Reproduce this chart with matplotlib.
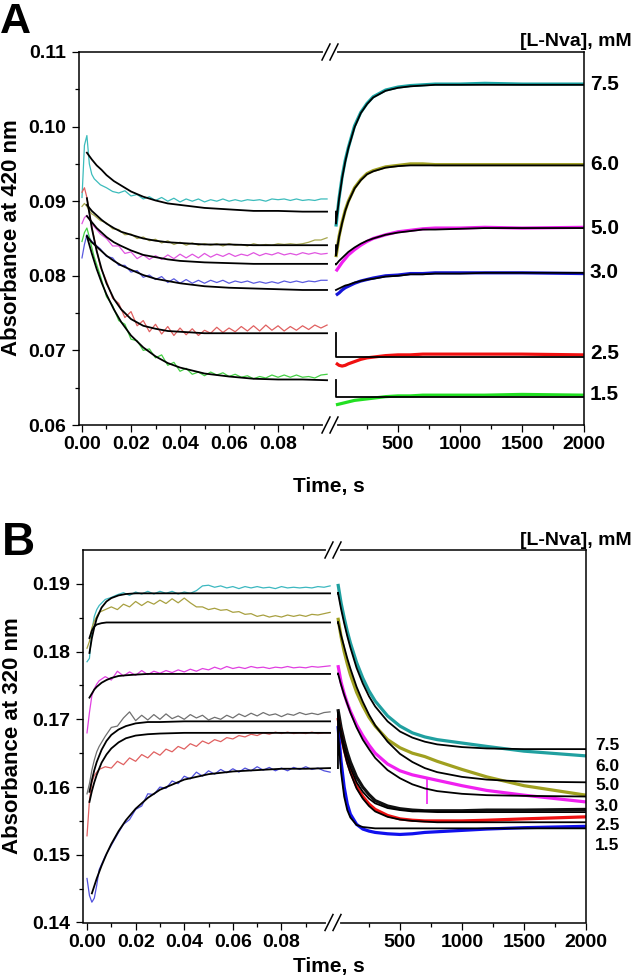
import matplotlib
matplotlib.use("Agg")
import matplotlib.pyplot as plt
import numpy as np
from matplotlib.ticker import FixedLocator, FormatStrFormatter

plt.rcParams['font.family'] = ['Liberation Sans', 'DejaVu Sans']
plt.rcParams['font.weight'] = 'bold'

# ---------------- data ----------------
conc_labels = ['7.5', '6.0', '5.0', '3.0', '2.5', '1.5']

# fast phase sampling (s)
t_raw = [0.000, 0.001, 0.002, 0.003, 0.004,
         0.005, 0.0075, 0.010, 0.0125, 0.015, 0.0175, 0.020, 0.0225, 0.025, 0.0275,
         0.030, 0.0325, 0.035, 0.0375, 0.040, 0.0425, 0.045, 0.0475, 0.050, 0.0525,
         0.055, 0.0575, 0.060, 0.0625, 0.065, 0.0675, 0.070, 0.0725, 0.075, 0.0775,
         0.080, 0.0825, 0.085, 0.0875, 0.090, 0.0925, 0.095, 0.0975, 0.100]
t_fit_a = [0.002, 0.004, 0.006, 0.008, 0.010, 0.013, 0.016, 0.020, 0.025,
           0.030, 0.035, 0.040, 0.050, 0.060, 0.070, 0.080, 0.090, 0.100]
t_fit_b = [0.001, 0.002, 0.003, 0.004, 0.006, 0.008, 0.010, 0.013, 0.016, 0.020,
           0.025, 0.030, 0.040, 0.050, 0.060, 0.070, 0.080, 0.090, 0.100]
# slow phase sampling (s)
t_slow = [0, 25, 50, 75, 100, 150, 200, 250, 300, 400, 500, 600, 700, 800,
          1000, 1200, 1500, 2000]

# ---- panel A, 420 nm ----
a_raw = [
    [0.0905, 0.0975, 0.0988, 0.0950, 0.0936,
     0.0930, 0.0922, 0.0918, 0.0913, 0.0911, 0.0914, 0.0907, 0.0909, 0.0903, 0.0906,
     0.0901, 0.0905, 0.0900, 0.0904, 0.0899, 0.0903, 0.0900, 0.0903, 0.0899, 0.0902,
     0.0900, 0.0903, 0.0900, 0.0902, 0.0900, 0.0902, 0.0901, 0.0902, 0.0900, 0.0903,
     0.0902, 0.0903, 0.0901, 0.0903, 0.0901, 0.0902, 0.0901, 0.0903, 0.0903],
    [0.0893, 0.0897, 0.0893, 0.0887, 0.0883,
     0.0881, 0.0874, 0.0871, 0.0863, 0.0862, 0.0855, 0.0856, 0.0850, 0.0852, 0.0847,
     0.0849, 0.0844, 0.0847, 0.0842, 0.0845, 0.0841, 0.0844, 0.0841, 0.0843, 0.0841,
     0.0843, 0.0840, 0.0843, 0.0841, 0.0842, 0.0840, 0.0843, 0.0841, 0.0842, 0.0841,
     0.0843, 0.0842, 0.0843, 0.0842, 0.0843, 0.0845, 0.0848, 0.0848, 0.0851],
    [0.0870, 0.0878, 0.0881, 0.0876, 0.0870,
     0.0866, 0.0856, 0.0850, 0.0840, 0.0840, 0.0830, 0.0832, 0.0823, 0.0828, 0.0822,
     0.0827, 0.0822, 0.0828, 0.0823, 0.0829, 0.0824, 0.0829, 0.0824, 0.0830, 0.0825,
     0.0829, 0.0826, 0.0830, 0.0826, 0.0829, 0.0827, 0.0831, 0.0827, 0.0830, 0.0828,
     0.0831, 0.0828, 0.0830, 0.0828, 0.0831, 0.0829, 0.0831, 0.0829, 0.0830],
    [0.0824, 0.0842, 0.0855, 0.0851, 0.0846,
     0.0843, 0.0836, 0.0826, 0.0824, 0.0814, 0.0814, 0.0805, 0.0807, 0.0798, 0.0801,
     0.0795, 0.0799, 0.0791, 0.0796, 0.0790, 0.0795, 0.0790, 0.0794, 0.0790, 0.0794,
     0.0791, 0.0794, 0.0790, 0.0793, 0.0791, 0.0793, 0.0790, 0.0792, 0.0790, 0.0792,
     0.0790, 0.0793, 0.0791, 0.0793, 0.0791, 0.0793, 0.0792, 0.0794, 0.0794],
    [0.0912, 0.0918, 0.0905, 0.0885, 0.0866,
     0.0850, 0.0812, 0.0793, 0.0770, 0.0763, 0.0744, 0.0752, 0.0733, 0.0740, 0.0725,
     0.0735, 0.0722, 0.0732, 0.0720, 0.0730, 0.0721, 0.0729, 0.0720, 0.0727, 0.0723,
     0.0731, 0.0724, 0.0730, 0.0725, 0.0732, 0.0726, 0.0733, 0.0726, 0.0734, 0.0727,
     0.0733, 0.0726, 0.0732, 0.0727, 0.0733, 0.0728, 0.0734, 0.0730, 0.0734],
    [0.0846, 0.0858, 0.0864, 0.0852, 0.0838,
     0.0825, 0.0800, 0.0772, 0.0760, 0.0740, 0.0735, 0.0715, 0.0713, 0.0700, 0.0702,
     0.0690, 0.0694, 0.0680, 0.0684, 0.0672, 0.0676, 0.0668, 0.0671, 0.0666, 0.0671,
     0.0667, 0.0670, 0.0665, 0.0668, 0.0664, 0.0666, 0.0662, 0.0665, 0.0663, 0.0667,
     0.0664, 0.0667, 0.0664, 0.0667, 0.0664, 0.0665, 0.0663, 0.0667, 0.0668],
]
a_fit_fast = [
    [0.0965, 0.0956, 0.0948, 0.0942, 0.0935, 0.0927, 0.0921, 0.0913, 0.0906,
     0.0901, 0.0897, 0.0895, 0.0891, 0.0889, 0.0887, 0.0887, 0.0886, 0.0886],
    [0.0895, 0.0887, 0.0881, 0.0875, 0.0870, 0.0864, 0.0859, 0.0855, 0.0850,
     0.0847, 0.0845, 0.0844, 0.0842, 0.0842, 0.0841, 0.0841, 0.0841, 0.0841],
    [0.0880, 0.0872, 0.0864, 0.0858, 0.0852, 0.0845, 0.0840, 0.0834, 0.0828,
     0.0825, 0.0822, 0.0820, 0.0818, 0.0817, 0.0816, 0.0816, 0.0816, 0.0816],
    [0.0853, 0.0845, 0.0839, 0.0833, 0.0827, 0.0820, 0.0814, 0.0808, 0.0801,
     0.0796, 0.0793, 0.0790, 0.0786, 0.0784, 0.0783, 0.0782, 0.0781, 0.0781],
    [0.0904, 0.0864, 0.0833, 0.0809, 0.0790, 0.0769, 0.0755, 0.0742, 0.0733,
     0.0729, 0.0726, 0.0725, 0.0723, 0.0723, 0.0723, 0.0723, 0.0723, 0.0723],
    [0.0853, 0.0830, 0.0809, 0.0791, 0.0775, 0.0755, 0.0738, 0.0720, 0.0704,
     0.0692, 0.0683, 0.0677, 0.0669, 0.0665, 0.0662, 0.0661, 0.0661, 0.0660],
]
a_slow = [
    [0.0866, 0.0904, 0.0933, 0.0955, 0.0972, 0.1001, 0.1019, 0.1031, 0.1040,
     0.1049, 0.1053, 0.1055, 0.1056, 0.1057, 0.1057, 0.1058, 0.1057, 0.1057],
    [0.0825, 0.0853, 0.0872, 0.0888, 0.0900, 0.0918, 0.0929, 0.0937, 0.0941,
     0.0946, 0.0948, 0.0950, 0.0950, 0.0949, 0.0949, 0.0949, 0.0949, 0.0949],
    [0.0806, 0.0812, 0.0818, 0.0823, 0.0828, 0.0835, 0.0841, 0.0846, 0.0850,
     0.0855, 0.0859, 0.0861, 0.0863, 0.0864, 0.0864, 0.0865, 0.0864, 0.0865],
    [0.0774, 0.0777, 0.0781, 0.0784, 0.0786, 0.0790, 0.0793, 0.0795, 0.0797,
     0.0800, 0.0801, 0.0803, 0.0803, 0.0804, 0.0804, 0.0804, 0.0804, 0.0803],
    [0.0683, 0.0680, 0.0679, 0.0680, 0.0682, 0.0685, 0.0688, 0.0690, 0.0691,
     0.0693, 0.0694, 0.0694, 0.0695, 0.0695, 0.0695, 0.0695, 0.0695, 0.0694],
    [0.0627, 0.0628, 0.0629, 0.0630, 0.0631, 0.0633, 0.0634, 0.0635, 0.0636,
     0.0638, 0.0639, 0.0639, 0.0640, 0.0640, 0.0640, 0.0640, 0.0641, 0.0640],
]
a_fit_slow = [
    [0.0870, 0.0903, 0.0931, 0.0953, 0.0971, 0.0999, 0.1018, 0.1030, 0.1039,
     0.1048, 0.1052, 0.1054, 0.1055, 0.1056, 0.1056, 0.1056, 0.1056, 0.1056],
    [0.0827, 0.0852, 0.0871, 0.0887, 0.0899, 0.0917, 0.0928, 0.0936, 0.0940,
     0.0945, 0.0947, 0.0948, 0.0948, 0.0948, 0.0948, 0.0948, 0.0948, 0.0948],
    [0.0815, 0.0820, 0.0824, 0.0828, 0.0832, 0.0838, 0.0843, 0.0847, 0.0850,
     0.0855, 0.0858, 0.0860, 0.0862, 0.0862, 0.0863, 0.0864, 0.0864, 0.0864],
    [0.0781, 0.0783, 0.0785, 0.0787, 0.0788, 0.0791, 0.0793, 0.0795, 0.0796,
     0.0799, 0.0800, 0.0802, 0.0802, 0.0803, 0.0803, 0.0804, 0.0804, 0.0804],
    [0.0691, 0.0691, 0.0691, 0.0691, 0.0691, 0.0691, 0.0691, 0.0691, 0.0691,
     0.0691, 0.0691, 0.0691, 0.0691, 0.0691, 0.0691, 0.0691, 0.0691, 0.0691],
    [0.0637, 0.0637, 0.0637, 0.0637, 0.0637, 0.0637, 0.0637, 0.0637, 0.0637,
     0.0637, 0.0637, 0.0637, 0.0637, 0.0637, 0.0637, 0.0637, 0.0637, 0.0637],
]
a_label_y = [0.1057, 0.0949, 0.0864, 0.0804, 0.0696, 0.0641]

# ---- panel B, 320 nm ----
b_raw = [
    [0.1785, 0.1790, 0.1830, 0.1852, 0.1862,
     0.1868, 0.1877, 0.1880, 0.1884, 0.1887, 0.1883, 0.1888, 0.1885, 0.1889, 0.1885,
     0.1889, 0.1886, 0.1889, 0.1885, 0.1888, 0.1886, 0.1890, 0.1897, 0.1898, 0.1895,
     0.1897, 0.1894, 0.1896, 0.1893, 0.1896, 0.1894, 0.1896, 0.1894, 0.1895, 0.1893,
     0.1896, 0.1894, 0.1895, 0.1894, 0.1895, 0.1894, 0.1896, 0.1895, 0.1897],
    [0.1805, 0.1815, 0.1835, 0.1845, 0.1852,
     0.1858, 0.1862, 0.1866, 0.1862, 0.1870, 0.1866, 0.1874, 0.1868, 0.1874, 0.1870,
     0.1876, 0.1871, 0.1878, 0.1872, 0.1879, 0.1872, 0.1866, 0.1866, 0.1862, 0.1864,
     0.1861, 0.1862, 0.1858, 0.1859, 0.1855, 0.1856, 0.1852, 0.1854, 0.1851, 0.1853,
     0.1851, 0.1854, 0.1852, 0.1854, 0.1852, 0.1855, 0.1854, 0.1856, 0.1858],
    [0.1680, 0.1710, 0.1735, 0.1745, 0.1752,
     0.1757, 0.1763, 0.1758, 0.1771, 0.1764, 0.1770, 0.1765, 0.1772, 0.1766, 0.1771,
     0.1768, 0.1772, 0.1769, 0.1773, 0.1770, 0.1774, 0.1771, 0.1775, 0.1773, 0.1777,
     0.1774, 0.1778, 0.1775, 0.1777, 0.1775, 0.1778, 0.1776, 0.1777, 0.1775, 0.1777,
     0.1776, 0.1778, 0.1776, 0.1777, 0.1776, 0.1778, 0.1777, 0.1778, 0.1779],
    [0.1590, 0.1605, 0.1625, 0.1640, 0.1652,
     0.1660, 0.1675, 0.1688, 0.1690, 0.1702, 0.1711, 0.1698, 0.1706, 0.1699, 0.1707,
     0.1700, 0.1708, 0.1701, 0.1705, 0.1700, 0.1707, 0.1702, 0.1706, 0.1699, 0.1703,
     0.1700, 0.1706, 0.1702, 0.1708, 0.1704, 0.1709, 0.1705, 0.1710, 0.1706, 0.1708,
     0.1704, 0.1708, 0.1706, 0.1710, 0.1707, 0.1709, 0.1707, 0.1710, 0.1711],
    [0.1528, 0.1580, 0.1607, 0.1617, 0.1622,
     0.1626, 0.1630, 0.1628, 0.1638, 0.1633, 0.1643, 0.1638, 0.1648, 0.1643, 0.1652,
     0.1647, 0.1656, 0.1652, 0.1660, 0.1656, 0.1664, 0.1660, 0.1668, 0.1664, 0.1670,
     0.1667, 0.1673, 0.1671, 0.1676, 0.1674, 0.1678, 0.1676, 0.1680, 0.1678, 0.1681,
     0.1679, 0.1681, 0.1679, 0.1680, 0.1679, 0.1681, 0.1679, 0.1680, 0.1680],
    [0.1465, 0.1440, 0.1430, 0.1436, 0.1455,
     0.1478, 0.1498, 0.1514, 0.1530, 0.1545, 0.1552, 0.1567, 0.1572, 0.1590, 0.1589,
     0.1600, 0.1598, 0.1609, 0.1605, 0.1616, 0.1612, 0.1622, 0.1616, 0.1624, 0.1619,
     0.1626, 0.1621, 0.1627, 0.1622, 0.1628, 0.1624, 0.1630, 0.1625, 0.1629, 0.1624,
     0.1628, 0.1624, 0.1629, 0.1626, 0.1630, 0.1626, 0.1628, 0.1624, 0.1622],
]
b_fit_fast = [
    [0.1798, 0.1820, 0.1836, 0.1849, 0.1865, 0.1874, 0.1879, 0.1883, 0.1885, 0.1886,
     0.1886, 0.1886, 0.1886, 0.1886, 0.1886, 0.1886, 0.1886, 0.1886, 0.1886],
    [0.1820, 0.1831, 0.1837, 0.1840, 0.1842, 0.1843, 0.1843, 0.1843, 0.1843, 0.1843,
     0.1843, 0.1843, 0.1843, 0.1843, 0.1843, 0.1843, 0.1843, 0.1843, 0.1843],
    [0.1732, 0.1738, 0.1744, 0.1748, 0.1754, 0.1758, 0.1761, 0.1764, 0.1765, 0.1766,
     0.1767, 0.1767, 0.1767, 0.1767, 0.1767, 0.1767, 0.1767, 0.1767, 0.1767],
    [0.1593, 0.1610, 0.1625, 0.1637, 0.1655, 0.1668, 0.1677, 0.1685, 0.1690, 0.1694,
     0.1696, 0.1696, 0.1697, 0.1697, 0.1697, 0.1697, 0.1697, 0.1697, 0.1697],
    [0.1578, 0.1594, 0.1607, 0.1618, 0.1636, 0.1648, 0.1657, 0.1666, 0.1672, 0.1676,
     0.1678, 0.1679, 0.1680, 0.1680, 0.1680, 0.1680, 0.1680, 0.1680, 0.1680],
    [np.nan, 0.1443, 0.1454, 0.1465, 0.1484, 0.1501, 0.1516, 0.1535, 0.1551, 0.1568,
     0.1584, 0.1596, 0.1611, 0.1619, 0.1623, 0.1625, 0.1627, 0.1627, 0.1628],
]
b_slow = [
    [0.1900, 0.1872, 0.1850, 0.1830, 0.1813, 0.1784, 0.1761, 0.1742, 0.1727,
     0.1705, 0.1690, 0.1680, 0.1674, 0.1670, 0.1665, 0.1660, 0.1653, 0.1646],
    [0.1850, 0.1822, 0.1800, 0.1782, 0.1766, 0.1740, 0.1720, 0.1703, 0.1690,
     0.1670, 0.1658, 0.1650, 0.1645, 0.1638, 0.1626, 0.1615, 0.1602, 0.1588],
    [0.1780, 0.1755, 0.1738, 0.1724, 0.1712, 0.1692, 0.1676, 0.1662, 0.1650,
     0.1634, 0.1624, 0.1618, 0.1614, 0.1610, 0.1602, 0.1595, 0.1588, 0.1578],
    [0.1715, 0.1688, 0.1668, 0.1651, 0.1637, 0.1615, 0.1600, 0.1589, 0.1580,
     0.1572, 0.1568, 0.1566, 0.1565, 0.1565, 0.1565, 0.1566, 0.1566, 0.1567],
    [0.1702, 0.1677, 0.1656, 0.1638, 0.1624, 0.1601, 0.1586, 0.1575, 0.1567,
     0.1558, 0.1553, 0.1551, 0.1550, 0.1550, 0.1550, 0.1551, 0.1553, 0.1556],
    [0.1690, 0.1638, 0.1600, 0.1575, 0.1560, 0.1545, 0.1538, 0.1535, 0.1533,
     0.1531, 0.1530, 0.1531, 0.1533, 0.1534, 0.1536, 0.1538, 0.1540, 0.1542],
]
b_fit_slow = [
    [0.1887, 0.1863, 0.1842, 0.1823, 0.1806, 0.1776, 0.1753, 0.1734, 0.1719,
     0.1697, 0.1682, 0.1673, 0.1667, 0.1663, 0.1659, 0.1657, 0.1656, 0.1656],
    [0.1844, 0.1824, 0.1807, 0.1790, 0.1775, 0.1748, 0.1726, 0.1707, 0.1691,
     0.1667, 0.1649, 0.1637, 0.1628, 0.1622, 0.1615, 0.1611, 0.1608, 0.1607],
    [0.1768, 0.1751, 0.1736, 0.1723, 0.1710, 0.1688, 0.1670, 0.1656, 0.1643,
     0.1625, 0.1613, 0.1604, 0.1598, 0.1594, 0.1590, 0.1588, 0.1587, 0.1586],
    [0.1710, 0.1683, 0.1662, 0.1644, 0.1629, 0.1607, 0.1593, 0.1583, 0.1576,
     0.1569, 0.1566, 0.1564, 0.1564, 0.1563, 0.1563, 0.1563, 0.1563, 0.1563],
    [0.1700, 0.1674, 0.1653, 0.1635, 0.1621, 0.1598, 0.1583, 0.1572, 0.1564,
     0.1556, 0.1552, 0.1550, 0.1549, 0.1548, 0.1548, 0.1548, 0.1548, 0.1548],
    [0.1683, 0.1622, 0.1586, 0.1566, 0.1555, 0.1544, 0.1541, 0.1540, 0.1539,
     0.1539, 0.1539, 0.1539, 0.1539, 0.1539, 0.1539, 0.1539, 0.1539, 0.1539],
]
b_spike = (715, 0.1614, 0.1575)   # single glitch in the 5.0 mM trace
# label rows are packed tightly beside the right axis
b_label_y = [0.1661, 0.1631, 0.1602, 0.1572, 0.1543, 0.1513]

a_fast_colors = ['#3cbcbc', '#a8a850', '#e055e0', '#5a5ae0', '#e06060', '#44d044']
a_slow_colors = ['#1aa5a5', '#a0a020', '#f020f0', '#1515d8', '#f01010', '#22e022']
b_fast_colors = ['#3cb8c0', '#a8a040', '#e040e0', '#707070', '#e06060', '#5050dd']
b_slow_colors = ['#20a0a0', '#a0a020', '#f020f0', '#101010', '#ee1010', '#1010ee']

# ---------------- layout (pixels of a 633 x 980 canvas) ----------------
W, H = 633, 980


def fx(px):
    return px / W


def fy(py):
    return 1 - py / H


def make_panel(fig, left, brk, right, top, bottom, xlim_l, xlim_r, ylim, ymajor, yminor):
    h = (bottom - top) / H
    ax_l = fig.add_axes([fx(left), fy(bottom), (brk - left) / W, h])
    ax_r = fig.add_axes([fx(brk), fy(bottom), (right - brk) / W, h], sharey=ax_l)
    for ax in (ax_l, ax_r):
        for s in ax.spines.values():
            s.set_linewidth(1.1)
        ax.tick_params(which='both', direction='out', width=0.9, labelsize=14, pad=3)
        ax.tick_params(which='major', length=5)
        ax.tick_params(which='minor', length=3)
        ax.tick_params(top=False, right=False)
    ax_l.spines['right'].set_visible(False)
    ax_r.spines['left'].set_visible(False)
    ax_r.tick_params(which='both', left=False, labelleft=False)
    ax_l.tick_params(axis='y', pad=4.5)

    ax_l.set_xlim(*xlim_l)
    ax_r.set_xlim(*xlim_r)
    ax_l.set_ylim(*ylim)
    ax_l.yaxis.set_major_locator(FixedLocator(ymajor))
    ax_l.yaxis.set_minor_locator(FixedLocator(yminor))
    ax_l.yaxis.set_major_formatter(FormatStrFormatter('%.2f'))
    ax_l.xaxis.set_major_locator(FixedLocator([0.0, 0.02, 0.04, 0.06, 0.08]))
    ax_l.xaxis.set_minor_locator(FixedLocator([0.01, 0.03, 0.05, 0.07, 0.09]))
    ax_l.xaxis.set_major_formatter(FormatStrFormatter('%.2f'))
    ax_r.xaxis.set_major_locator(FixedLocator([500, 1000, 1500, 2000]))
    ax_r.xaxis.set_minor_locator(FixedLocator([250, 750, 1250, 1750]))
    ax_r.xaxis.set_major_formatter(FormatStrFormatter('%d'))

    # axis break marks "//" on top and bottom spines
    for yy in (top, bottom):
        fig.add_artist(plt.Line2D([fx(brk - 5), fx(brk + 5)], [fy(yy), fy(yy)],
                                  transform=fig.transFigure, color='white', lw=3, zorder=10))
        for dx in (-4, 4):
            fig.add_artist(plt.Line2D([fx(brk + dx - 4), fx(brk + dx + 4)],
                                      [fy(yy + 8), fy(yy - 8)],
                                      transform=fig.transFigure, color='black',
                                      lw=1.1, zorder=11))
    return ax_l, ax_r


def draw_traces(ax_l, ax_r, raw, t_fit, fit_fast, slow, fit_slow, c_fast, c_slow):
    for i in range(len(raw)):
        ax_l.plot(t_raw, raw[i], color=c_fast[i], lw=0.9, zorder=2)
        ax_l.plot(t_fit, fit_fast[i], color='black', lw=1.3, zorder=3)
        ax_r.plot(t_slow, slow[i], color=c_slow[i], lw=2.3, zorder=2,
                  solid_capstyle='butt')
        # fitted curve continues from the fast-phase end value
        ax_r.plot(np.r_[0, t_slow], np.r_[fit_fast[i][-1], fit_slow[i]],
                  color='black', lw=1.3, zorder=3)


fig = plt.figure(figsize=(W / 100, H / 100), dpi=100)

# ---- panel A ----
axA_l, axA_r = make_panel(fig, 79, 330, 584, 52, 425,
                          (-0.00122, 0.1012), (-48, 2000), (0.06, 0.11),
                          [0.06, 0.07, 0.08, 0.09, 0.10, 0.11],
                          [0.065, 0.075, 0.085, 0.095, 0.105])
draw_traces(axA_l, axA_r, a_raw, t_fit_a, a_fit_fast, a_slow, a_fit_slow,
            a_fast_colors, a_slow_colors)
for lab, yv in zip(conc_labels, a_label_y):
    axA_r.annotate(lab, xy=(1, yv), xycoords=('axes fraction', 'data'),
                   xytext=(4.3, 0), textcoords='offset points',
                   ha='left', va='center', fontsize=15, fontweight='bold')

# ---- panel B ----
axB_l, axB_r = make_panel(fig, 83, 333, 586, 550, 922.5,
                          (-0.00165, 0.1012), (-40, 2000), (0.14, 0.195),
                          [0.14, 0.15, 0.16, 0.17, 0.18, 0.19],
                          [0.145, 0.155, 0.165, 0.175, 0.185])
draw_traces(axB_l, axB_r, b_raw, t_fit_b, b_fit_fast, b_slow, b_fit_slow,
            b_fast_colors, b_slow_colors)
axB_r.vlines(b_spike[0], b_spike[2], b_spike[1], color=b_slow_colors[2], lw=1.2, zorder=2)
for lab, yv in zip(conc_labels, b_label_y):
    axB_r.annotate(lab, xy=(1, yv), xycoords=('axes fraction', 'data'),
                   xytext=(6.5, 0), textcoords='offset points',
                   ha='left', va='center', fontsize=12.5, fontweight='bold')

# ---- texts ----
fig.text(fx(0), fy(33), 'A', fontsize=31, fontweight='bold', ha='left', va='baseline')
fig.text(fx(2), fy(555), 'B', fontsize=33, fontweight='bold', ha='left', va='baseline')
for yb in (46, 545):
    fig.text(fx(632), fy(yb), '[L-Nva], mM', fontsize=14, fontweight='bold',
             ha='right', va='baseline')
for yb in (492, 972):
    fig.text(fx(329), fy(yb), 'Time, s', fontsize=15, fontweight='bold',
             ha='center', va='baseline')
fig.text(fx(12), fy(238), 'Absorbance at 420 nm', fontsize=16, fontweight='bold',
         rotation=90, ha='center', va='center')
fig.text(fx(13), fy(736), 'Absorbance at 320 nm', fontsize=16, fontweight='bold',
         rotation=90, ha='center', va='center')

fig.savefig('out.png', dpi=100)
